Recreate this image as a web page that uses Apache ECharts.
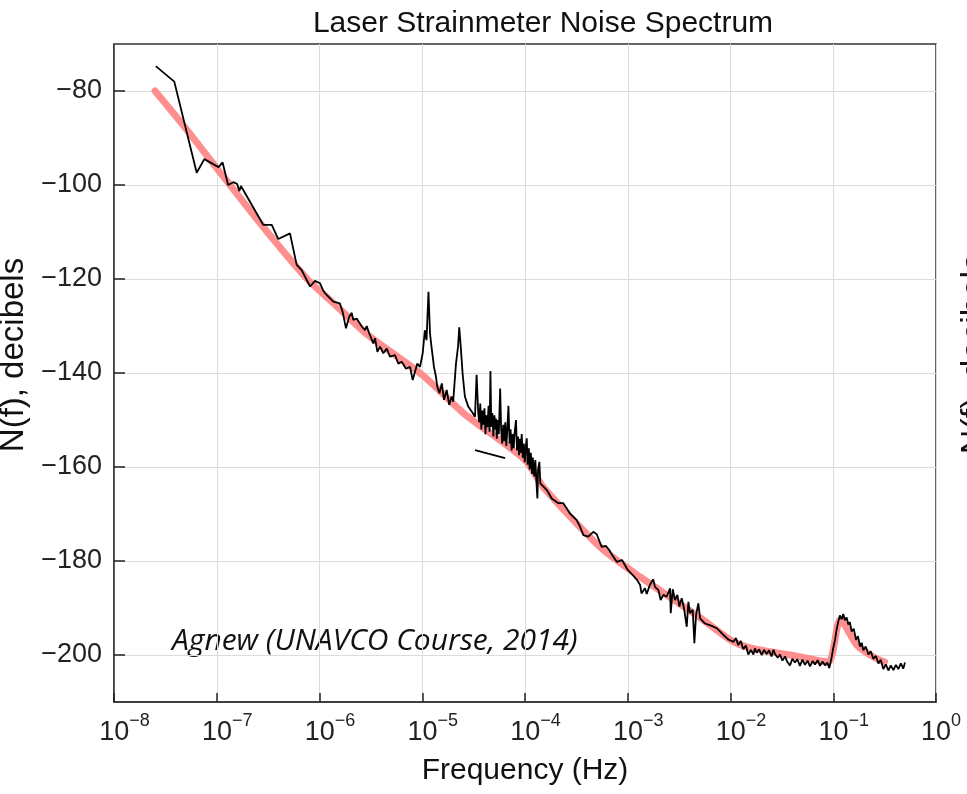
<!DOCTYPE html>
<html><head><meta charset="utf-8">
<script src="https://cdn.jsdelivr.net/npm/echarts@6/dist/echarts.min.js"></script>
<style>html,body{margin:0;padding:0;background:#fff}#c{width:967px;height:794px}</style>
</head><body><div id="c"></div>
<script>
const titleText = 'Laser Strainmeter Noise Spectrum';
const xName = 'Frequency (Hz)';
const yName = 'N(f), decibels';
const noteText = 'Agnew (UNAVCO Course, 2014)';
const xTicks = [1e-8, 1e-7, 1e-6, 1e-5, 1e-4, 1e-3, 1e-2, 1e-1, 1];
const yTicks = [-80, -100, -120, -140, -160, -180, -200];

// smooth model fit [frequency Hz, dB]
const fitCurve = [
  [2.51e-8,-80.0],[4.68e-8,-87.2],[1.00e-7,-96.4],[2.82e-7,-108.9],[7.59e-7,-120.0],
  [1.36e-6,-125.1],[3.0e-6,-132.0],[1.00e-5,-140.4],[2.51e-5,-148.5],[1.0e-4,-158.5],
  [1.51e-4,-164.3],[5.37e-4,-177.0],[1.32e-3,-183.4],[5.01e-3,-192.0],[1.0e-2,-196.8],
  [1.55e-2,-198.5],[4.79e-2,-200.4],[8.91e-2,-201.5],[0.117,-192.5],[0.170,-197.9],
  [0.245,-200.4],[0.316,-201.5]
];

// measured noise spectrum [frequency Hz, dB]
const spectrum = [
  [2.55e-8,-74.7],[3.86e-8,-78.0],[6.38e-8,-97.4],[7.57e-8,-94.5],[1.04e-7,-96.2],[1.14e-7,-95.2],
  [1.29e-7,-100.0],[1.45e-7,-99.4],[1.58e-7,-99.8],[1.66e-7,-101.3],[1.72e-7,-100.2],[2.84e-7,-108.5],
  [3.43e-7,-108.5],[3.97e-7,-111.5],[5.16e-7,-110.3],[6.0e-7,-117.0],[6.71e-7,-118.1],[8.09e-7,-121.6],
  [9.04e-7,-120.4],[1.01e-6,-120.9],[1.09e-6,-122.5],[1.13e-6,-123.0],[1.36e-6,-124.8],[1.58e-6,-125.2],
  [1.68e-6,-127.0],[1.81e-6,-130.5],[1.95e-6,-128.0],[2.06e-6,-127.2],[2.13e-6,-128.7],[2.30e-6,-128.4],
  [2.58e-6,-130.1],[2.77e-6,-130.9],[2.88e-6,-130.0],[3.05e-6,-131.6],[3.34e-6,-133.7],[3.47e-6,-132.6],
  [3.66e-6,-135.5],[3.88e-6,-134.4],[4.18e-6,-135.8],[4.51e-6,-134.8],[4.85e-6,-136.5],[5.43e-6,-136.2],
  [5.85e-6,-138.0],[6.31e-6,-137.6],[6.95e-6,-139.1],[7.60e-6,-138.7],[8.07e-6,-141.5],[8.49e-6,-139.8],
  [8.95e-6,-138.0],[9.51e-6,-138.7],[1.01e-5,-135.8],[1.06e-5,-130.9],[1.10e-5,-133.0],[1.15e-5,-122.7],
  [1.19e-5,-131.6],[1.23e-5,-134.4],[1.30e-5,-138.7],[1.36e-5,-140.8],[1.40e-5,-142.9],[1.47e-5,-144.3],
  [1.55e-5,-142.2],[1.63e-5,-145.7],[1.73e-5,-143.6],[1.83e-5,-146.8],[1.93e-5,-145.0],[2.00e-5,-146.1],
  [2.13e-5,-138.0],[2.23e-5,-134.4],[2.29e-5,-130.3],[2.37e-5,-134.4],[2.47e-5,-140.1],[2.60e-5,-145.0],
  [2.81e-5,-147.2],[3.03e-5,-148.2],[3.26e-5,-149.3],[3.38e-5,-140.4],[3.51e-5,-148.6],
  [3.59e-5,-150.5],[3.67e-5,-146.5],[3.76e-5,-152.0],[3.85e-5,-148.0],[3.94e-5,-151.0],[4.03e-5,-147.5],
  [4.12e-5,-153.0],[4.22e-5,-149.0],[4.32e-5,-151.5],[4.42e-5,-147.0],[4.52e-5,-152.5],[4.61e-5,-139.6],
  [4.70e-5,-151.5],[4.81e-5,-148.5],[4.92e-5,-153.5],[5.04e-5,-149.0],[5.15e-5,-152.0],[5.21e-5,-149.7],
  [5.31e-5,-154.0],[5.43e-5,-150.0],[5.56e-5,-153.0],[5.73e-5,-143.3],[5.86e-5,-152.0],[6.00e-5,-155.0],
  [6.14e-5,-151.0],[6.28e-5,-154.5],[6.43e-5,-150.5],[6.58e-5,-155.5],[6.73e-5,-152.0],[6.90e-5,-147.0],
  [7.08e-5,-155.0],[7.24e-5,-152.0],[7.41e-5,-156.5],[7.59e-5,-153.0],[7.76e-5,-156.0],[7.94e-5,-152.5],
  [8.17e-5,-150.0],[8.36e-5,-156.5],[8.55e-5,-153.5],[8.75e-5,-157.5],[8.95e-5,-154.0],[9.12e-5,-157.0],
  [9.29e-5,-153.0],[9.51e-5,-158.0],[9.73e-5,-155.0],[9.95e-5,-159.0],[1.02e-4,-155.5],[1.04e-4,-153.9],
  [1.06e-4,-159.5],[1.09e-4,-156.0],[1.11e-4,-160.5],[1.14e-4,-157.0],[1.17e-4,-161.5],[1.19e-4,-158.0],
  [1.21e-4,-157.7],[1.23e-4,-162.0],[1.26e-4,-158.5],[1.29e-4,-163.0],[1.32e-4,-166.7],[1.34e-4,-160.5],
  [1.38e-4,-158.9],[1.41e-4,-163.5],[1.43e-4,-163.4],
  [1.63e-4,-164.9],[1.82e-4,-166.7],[2.11e-4,-167.7],[2.36e-4,-167.7],[2.74e-4,-169.9],[3.18e-4,-171.3],
  [3.43e-4,-172.7],[3.70e-4,-174.5],[4.13e-4,-174.8],[4.62e-4,-173.8],[4.99e-4,-174.3],[5.57e-4,-177.0],
  [6.14e-4,-176.8],[6.62e-4,-177.7],[7.03e-4,-178.7],[7.85e-4,-180.2],[8.79e-4,-179.8],[1.00e-3,-181.9],
  [1.12e-3,-183.0],[1.23e-3,-184.0],[1.32e-3,-185.1],[1.36e-3,-186.9],[1.47e-3,-185.8],[1.53e-3,-187.0],
  [1.64e-3,-185.1],[1.77e-3,-183.9],[1.84e-3,-185.5],[1.99e-3,-186.2],[2.09e-3,-188.3],[2.22e-3,-187.2],
  [2.39e-3,-187.6],[2.58e-3,-185.8],[2.62e-3,-191.1],[2.74e-3,-186.0],[2.88e-3,-188.3],[3.04e-3,-187.2],
  [3.18e-3,-189.7],[3.35e-3,-187.9],[3.53e-3,-190.1],[3.75e-3,-194.0],[3.89e-3,-188.7],[4.04e-3,-191.1],
  [4.29e-3,-190.4],[4.45e-3,-197.5],[4.62e-3,-191.5],[4.86e-3,-189.0],[5.06e-3,-192.2],[5.65e-3,-193.3],
  [6.56e-3,-193.8],[7.35e-3,-194.3],[8.53e-3,-195.7],[9.53e-3,-196.7],
  [1.07e-2,-197.2],[1.13e-2,-196.4],[1.19e-2,-197.9],[1.26e-2,-197.0],[1.33e-2,-198.8],[1.41e-2,-198.0],
  [1.49e-2,-199.9],[1.58e-2,-198.9],[1.67e-2,-199.9],[1.73e-2,-198.6],[1.80e-2,-199.5],[1.90e-2,-198.8],
  [2.01e-2,-200.0],[2.12e-2,-198.9],[2.25e-2,-199.8],[2.37e-2,-199.0],[2.51e-2,-200.3],[2.62e-2,-198.9],
  [2.71e-2,-199.8],[2.88e-2,-200.6],[3.03e-2,-199.9],[3.20e-2,-201.2],[3.39e-2,-200.3],[3.58e-2,-201.5],
  [3.79e-2,-202.2],[4.00e-2,-200.8],[4.24e-2,-201.6],[4.47e-2,-200.9],[4.74e-2,-202.3],[5.01e-2,-201.0],
  [5.31e-2,-202.1],[5.62e-2,-201.2],[5.94e-2,-202.4],[6.31e-2,-201.3],[6.64e-2,-202.0],[7.05e-2,-201.1],
  [7.43e-2,-202.3],[7.85e-2,-201.4],[8.32e-2,-202.2],[8.75e-2,-201.6],[9.16e-2,-202.8],[9.66e-2,-200.4],
  [0.100,-198.5],[0.104,-196.8],[0.108,-194.5],[0.112,-192.9],[0.116,-191.6],[0.121,-192.4],
  [0.125,-191.3],[0.130,-192.6],[0.135,-192.0],[0.140,-193.5],[0.145,-193.0],[0.151,-195.0],
  [0.158,-194.4],[0.167,-196.8],[0.174,-196.0],[0.182,-198.2],[0.189,-197.4],[0.196,-199.0],
  [0.207,-198.2],[0.220,-199.9],[0.232,-199.2],[0.245,-200.8],[0.260,-200.2],[0.275,-201.8],
  [0.290,-201.0],[0.307,-203.0],[0.325,-202.0],[0.344,-203.3],[0.363,-202.2],[0.385,-203.2],
  [0.407,-202.1],[0.430,-203.0],[0.455,-201.8],[0.480,-202.9],[0.499,-201.6]
];

// start of a second overlapping band segment
const bandSegment = [[3.26e-5,-156.4],[6.4e-5,-158.1]];

const FONT = 'Liberation Sans, Arial, Helvetica, sans-serif';
const chart = echarts.init(document.getElementById('c'));

function xLabel(v) {
  const e = Math.round(Math.log10(v));
  const s = e < 0 ? '\u2212' + (-e) : String(e);
  return '{p' + s.length + '|}{b|10}{s|' + s + '}';
}
function yLabel(v) { return v < 0 ? '\u2212' + (-v) : String(v); }

chart.setOption({
  animation: false,
  backgroundColor: '#ffffff',
  title: {
    text: titleText, left: 538, top: 4, textAlign: 'center',
    textStyle: { fontFamily: FONT, fontSize: 30, fontWeight: 'normal', color: '#111' }
  },
  grid: { left: 114, right: 31, top: 44, bottom: 92, containLabel: false, outerBoundsMode: 'none',
          show: true, borderColor: '#333', borderWidth: 1.5 },
  xAxis: {
    type: 'log', logBase: 10, min: 1e-8, max: 1, interval: 1,
    name: xName, nameLocation: 'middle', nameGap: 54,
    nameTextStyle: { fontFamily: FONT, fontSize: 30, color: '#111' },
    axisLine: { show: true, lineStyle: { color: '#333', width: 1.5 } },
    axisTick: { show: true, inside: true, length: 9, lineStyle: { color: '#222', width: 1.5 } },
    axisLabel: {
      formatter: xLabel, margin: 10, color: '#222',
      rich: {
        b: { fontFamily: FONT, fontSize: 27, color: '#222', lineHeight: 34, verticalAlign: 'bottom' },
        s: { fontFamily: FONT, fontSize: 18, color: '#222', lineHeight: 18, verticalAlign: 'top' },
        p1: { width: 10 }, p2: { width: 21 }
      }
    },
    splitLine: { show: true, lineStyle: { color: '#dcdcdc', width: 1 } },
    minorTick: { show: false }
  },
  yAxis: {
    type: 'value', min: -210, max: -70,
    name: yName, nameLocation: 'middle', nameGap: 45, nameRotate: 90,
    nameTextStyle: { fontFamily: FONT, fontSize: 33, color: '#111', padding: [0, 0, 0, 36] },
    axisLine: { show: true, lineStyle: { color: '#333', width: 1.5 } },
    axisTick: { show: true, inside: true, length: 11, customValues: yTicks, lineStyle: { color: '#222', width: 1.5 } },
    axisLabel: { customValues: yTicks, formatter: yLabel, margin: 12, fontFamily: FONT, fontSize: 27, color: '#222' },
    splitLine: { show: true, lineStyle: { color: '#dcdcdc', width: 1 } }
  },
  graphic: [
    { type: 'text', left: 172, top: 626, style: { text: noteText, fontFamily: 'Open Sans, Lato, sans-serif', fontStyle: 'italic', fontSize: 30, fill: '#111' } },
    { type: 'text', x: 975, y: 354, rotation: Math.PI / 2,
      style: { text: yName, fontFamily: FONT, fontSize: 34, fill: '#111', align: 'center', verticalAlign: 'middle' } }
  ],
  series: [
    { type: 'line', name: 'fit', data: fitCurve, showSymbol: false, symbol: 'none', smooth: 0.25,
      lineStyle: { color: '#ff8f8f', width: 7, cap: 'round' }, z: 2 },
    { type: 'line', name: 'spectrum', data: spectrum, showSymbol: false, symbol: 'none',
      lineStyle: { color: '#000', width: 1.8 }, z: 3 },
    { type: 'line', name: 'band', data: bandSegment, showSymbol: false, symbol: 'none',
      lineStyle: { color: '#000', width: 1.8 }, z: 3 }
  ]
});
</script></body></html>
